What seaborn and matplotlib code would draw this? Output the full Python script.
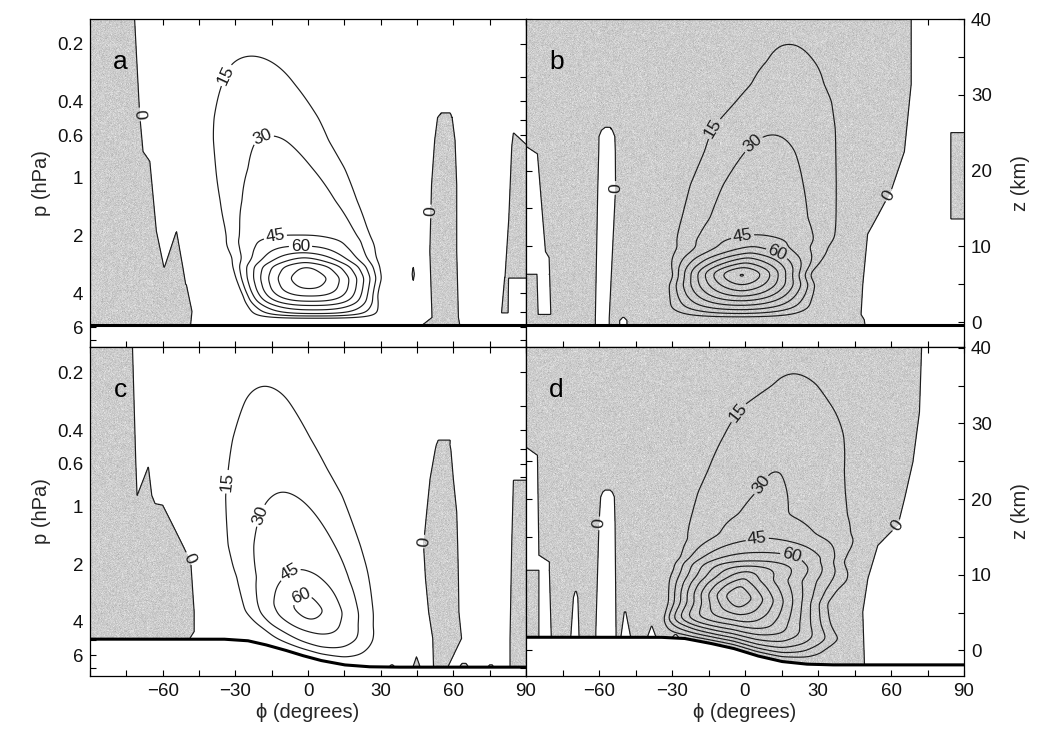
import numpy as np
import matplotlib
matplotlib.use("Agg")
import matplotlib.pyplot as plt
from matplotlib.ticker import FixedLocator, FixedFormatter, FuncFormatter
import seaborn as sns

sns.set_theme(style="ticks")
plt.rcParams["font.family"] = ["Liberation Sans", "DejaVu Sans"]
plt.rcParams["xtick.direction"] = "in"
plt.rcParams["ytick.direction"] = "in"

# ---------------------------------------------------------------- constants
P0_HPA = 5.65       # reference surface pressure
SCALE_H_KM = 11.0   # pressure scale height

# ---------------------------------------------------------------- axis ticks
p_major = [0.2, 0.4, 0.6, 1, 2, 4, 6]
p_major_labels = ["0.2", "0.4", "0.6", "1", "2", "4", "6"]
p_minor = [0.3, 0.5, 0.7, 0.8, 0.9, 3, 5, 7]
z_major = [0, 10, 20, 30, 40]
z_minor = [5, 15, 25, 35]
lat_ticks = list(range(-90, 91, 15))

contour_step = 15

# ---------------------------------------------------------------- surface height (km)
flat_surf_lat = [-90, 90]
flat_surf_z = [-0.35, -0.35]
c_surf_lat = [-90, -35, -25, -18, -10, -3, 5, 15, 25, 35, 90]
c_surf_z = [1.5, 1.5, 1.3, 0.8, 0.1, -0.6, -1.3, -1.9, -2.15, -2.2, -2.2]
d_surf_lat = [-90, -35, -25, -15, -5, 5, 15, 25, 35, 90]
d_surf_z = [1.75, 1.75, 1.6, 1.0, 0.3, -0.7, -1.45, -1.8, -1.9, -1.9]

# ---------------------------------------------------------------- jet profiles
# per height: peak speed, latitude of the peak, half widths and profile exponents
a_jet_z = [0.3, 0.6, 1.0, 1.6, 2.2, 2.7, 3.4, 4.3, 5.8, 7.4, 7.8, 8.5, 9.1, 10.0,
           11.2, 12.5, 16.0, 20.3, 24.0, 27.0, 31.4, 35.1, 40.0]
a_jet_peak = [0, 18, 45, 60, 75, 90, 105, 120, 130, 120, 105, 90, 75, 60,
              45, 43.5, 40, 35, 31, 26, 20, 15, 9]
a_jet_center = [3, 3, 3, 2.5, 2, 1.5, 1, 0.6, 0.3, -0.8, -1.1, -1.6, -2.2, -3,
                -3.9, -5, -8, -11.5, -15.3, -17.3, -20.5, -23.3, -26]
a_jet_width = [27, 28, 29.4, 29.5, 29.5, 29.6, 29.6, 30.5, 32.2, 33, 33.3, 33.5, 34, 34.7,
               33.5, 33.5, 34.4, 35.2, 33.1, 33, 30, 30, 30]
a_jet_shape = [2.5, 2.5, 2.5, 2.5, 2.5, 2.5, 2.4, 2.1, 1.8, 1.6, 1.55, 1.55, 1.8, 2.2,
               3.5, 3.2, 2.4, 2.0, 2.0, 2.0, 2.0, 2.0, 2.0]

b_jet_z = [0.4, 0.75, 1.2, 1.6, 2.2, 2.8, 3.4, 4.1, 4.9, 5.8, 6.2, 6.6, 7.2, 7.8, 8.5,
           9.1, 9.9, 11.3, 13.7, 18.1, 22.5, 25.6, 29.1, 31.4, 34.4, 36.7, 40.0]
b_jet_peak = [0, 20, 32, 45, 60, 75, 90, 105, 120, 135, 138, 135, 120, 105, 90,
              75, 60, 45, 41, 36.5, 32.5, 29, 25, 21, 17, 15, 11]
b_jet_center = [-2.4, -2.4, -2.4, -2.2, -2, -1.8, -1.6, -1.4, -1.2, -1.3, -1.4, -1.2, -0.5, 0.3, 1.2,
                2.2, 3.2, 4.5, 5.7, 7.5, 10.3, 11.8, 15.9, 17.5, 18.7, 18.1, 19]
b_jet_width = [30, 31, 32, 33, 33, 32.5, 32.5, 32.5, 32.6, 31, 30.5, 31, 32.5, 34, 35.5,
               37, 38, 38.9, 40.3, 39.1, 36.8, 36.4, 31.1, 28, 28.5, 28, 28]
b_jet_shape = [2, 2, 2, 2, 2, 1.9, 1.8, 1.7, 1.6, 1.5, 1.5, 1.5, 1.45, 1.4, 1.35,
               1.3, 1.4, 2.2, 1.9, 2, 2, 2, 2, 2, 2, 2, 2]

c_jet_z = [-0.5, 0.3, 1.0, 1.8, 2.6, 3.4, 4.2, 5.6, 7.5, 9.5, 10.6, 13.9, 20.5, 24.0,
           28.0, 32.9, 34.9, 40.0]
c_jet_peak = [0, 18, 30, 38, 45, 52, 60, 68, 60, 50, 45, 39, 30.5, 26.5, 22, 17.5, 15, 10]
c_jet_center = [4, 4, 4, 3.5, 2.5, 1.5, 0.5, 0.0, -1, -2.1, -3, -5.7, -10, -12.5,
                -15, -17, -17.8, -19]
c_jet_width = [24, 25, 26, 28, 29.5, 31, 32, 32.7, 33.5, 34.4, 34.5, 34.8, 33.7, 31,
               28.5, 24, 24, 24]
c_jet_shape = [2, 2, 2, 2, 2.1, 1.8, 1.5, 1.3, 1.4, 1.56, 1.8, 2, 2, 2, 2, 2, 2, 2]

d_jet_z = [0.1, 0.6, 1.0, 1.4, 2.0, 2.5, 3.2, 3.8, 4.7, 5.6, 7.1, 8.6, 9.6, 10.5,
           11.2, 11.8, 12.1, 12.9, 14.8, 15.3, 17.9, 21.0, 23.8, 28.5, 32.4, 35.1, 36.6, 40.0]
d_jet_peak = [0, 17, 30, 45, 60, 75, 90, 105, 120, 135, 150, 135, 120, 105,
              90, 75, 70, 60, 45, 42, 32.5, 31, 30, 24, 19, 16.5, 15, 11]
d_jet_center = [-1, -1, -1.2, -1.5, -1.8, -2.2, -2.5, -2.6, -2.7, -2.8, -2.8, -1.5, 0, 1.5,
                2.5, 3.5, 5, 6, 9, 9, 7.5, 11, 12.8, 16, 17.5, 20.5, 20, 21]
d_jet_width_s = [33, 33, 33.5, 34, 33.5, 33, 32.5, 32, 31.5, 31, 31, 32.5, 33.9, 34,
                 34.5, 35, 35, 36, 40, 43, 40.8, 43.9, 41.2, 42.2, 42.6, 34, 34, 34]
d_jet_width_n = [36, 37, 38, 39, 40, 43, 46, 44, 42, 41, 40, 44, 48, 46,
                 43, 41, 40, 41, 45, 46.3, 50.7, 43.9, 41.2, 42.2, 42.6, 34, 34, 34]
d_jet_shape_s = [3, 3, 3, 3, 3, 3.3, 3.5, 2.8, 2.0, 1.5, 1.3, 1.3, 1.29, 1.6,
                 2.0, 2.3, 2.5, 2.4, 1.9, 1.6, 1.89, 1.77, 1.8, 1.8, 1.8, 1.8, 1.8, 1.8]
d_jet_shape_n = [2, 2, 2, 2, 2, 1.8, 1.6, 1.5, 1.35, 1.25, 1.2, 1.05, 0.95, 1.3,
                 1.8, 2.2, 2.5, 2.4, 1.7, 1.5, 1.62, 1.77, 1.8, 1.8, 1.8, 1.8, 1.8, 1.8]

# ---------------------------------------------------------------- shaded zones
# each zone: (heights km, western edge deg, eastern edge deg)
a_west = ([-4, 1.4, 4.9, 7.1, 12.0, 21.2, 22.5, 27.4, 35.8, 45],
          [-100] * 10,
          [-49.6, -47.9, -50.2, -59.4, -62.6, -65.3, -68.1, -69.5, -70.9, -72.4])
a_spike = ([4.0, 7.1, 12.0], [-62.0, -59.4, -54.3], [-50.0, -51.6, -54.3])
a_sliver = ([5.5, 6.3, 7.2], [43.3, 43.0, 43.3], [43.5, 43.9, 43.5])
a_column = ([-4, -0.3, 0.6, 9.3, 18.1, 24.0, 27.0, 27.6],
            [47, 47.6, 51.2, 50.3, 51.0, 52.3, 53.5, 55.0],
            [62.8, 62.6, 62.1, 61.4, 61.4, 60.7, 59.5, 58.7])
a_east = ([5.8, 13.7, 23.0, 23.4, 25.0], [81.3, 82.9, 84.1, 84.2, 84.8],
          [100, 100, 100, 90.2, 84.8])
a_east_stem = ([1.2, 5.9], [79.9, 81.2], [82.6, 82.8])

b_main = ([-4, 0.3, 1.0, 4.9, 11.6, 13.7, 17.3, 22.5, 31.4, 45],
          [-100] * 10,
          [51, 49, 47.7, 48.4, 50.4, 54, 60, 65.5, 68.3, 68.3])
b_east = ([13.6, 25.0], [84.6, 84.6], [100, 100])
b_gap_west_low = ([1.0, 6.3], [-85, -85.5], [-79.8, -80.3])
b_gap_west_up = ([6.3, 8.5, 9.3, 22.2, 23.4], [-100] * 5, [-80.3, -80.5, -82.0, -85.3, -91])
b_gap_column = ([-4, 0.5, 17.7, 22.5, 24.5, 25.3, 25.7],
                [-61.5, -61.5, -60.5, -60.1, -60, -59, -57.5],
                [-55.8, -55.8, -53.2, -53.3, -53.5, -54.5, -55.5])
b_gap_bump = ([-4, 0.2, 0.6], [-51.5, -51.5, -50.3], [-48.5, -48.5, -49.7])

c_west = ([-4, 1.5, 2.5, 5.1, 11.7, 13.5, 16.6, 19.2, 19.9, 24.9, 45],
          [-100] * 11,
          [-49.5, -49, -47, -47, -48.4, -51.1, -55.9, -60, -70.5, -71.1, -72.9])
c_spike = ([18.5, 20.5, 24.3], [-71, -70.5, -65.9], [-62, -64.5, -65.9])
c_column = ([-4, -2.0, 1.6, 5.1, 9.5, 13.9, 18.3, 22.7, 26.5, 27.2, 27.8],
            [51.8, 51.8, 51.5, 49.8, 48.5, 47.7, 49, 50.4, 52.5, 53, 53.8],
            [58, 58, 63.4, 62.3, 62.1, 61.8, 61.4, 60, 59, 58.6, 58.7])
c_east = ([-4, 1.5, 13.9, 22.5], [83.4, 83.4, 84.1, 84.8], [100] * 4)
c_bump_34 = ([-4, -2.2, -1.9], [33.4, 33.4, 34.3], [35.9, 35.9, 35.0])
c_bump_44 = ([-4, -2.2, -0.8], [43.3, 43.3, 44.8], [46.3, 46.3, 44.8])
c_bump_64 = ([-4, -2.2, -1.7], [62.5, 62.5, 63.6], [66.3, 66.3, 65.2])
c_bump_75 = ([-4, -2.2, -1.9], [74.2, 74.2, 75.0], [76.8, 76.8, 76.0])

d_main = ([-4, -1.9, 5.1, 9.5, 13.9, 16.6, 20.1, 24.9, 31.5, 45],
          [-100] * 10,
          [50, 49.1, 48.4, 50.5, 54.6, 62.9, 65.6, 69, 71.7, 73.1])
d_gap_west_low = ([-4, 10.6], [-84.7, -84.7], [-79.1, -80.4])
d_gap_west_up = ([10.6, 11.7, 12.6, 25.8, 27.1], [-100] * 5, [-80.4, -80.4, -84.7, -85.3, -91])
d_gap_column = ([-4, 2.5, 16.8, 20.3, 20.9, 21.2],
                [-61.3, -61.3, -60.0, -59.3, -58.5, -57.5],
                [-53.0, -53.0, -53.4, -53.7, -54.5, -55.5])
d_gap_spike_70 = ([-4, 1.8, 7.0, 7.8], [-71.6, -71.6, -70.5, -69.8], [-68.2, -68.2, -68.7, -69.3])
d_gap_spike_50 = ([-4, 1.8, 5.1], [-51, -51, -49.6], [-47, -47, -49.0])
d_gap_tri_38 = ([-4, 1.8, 3.2], [-40.1, -40.1, -38.5], [-36.6, -36.6, -38.2])
d_gap_bump_28 = ([-4, 1.75, 2.1], [-29.8, -29.8, -28.9], [-27.3, -27.3, -28.2])

# ---------------------------------------------------------------- label anchors (lat, km)
a_jet_labels = [(-33.3, 32.5), (-18.2, 23.9), (-13.4, 11.1), (-3.1, 9.9)]
b_jet_labels = [(-13.2, 25.6), (3.1, 23.6), (-1.0, 11.3), (14.1, 9.8)]
c_jet_labels = [(-33.7, 22.3), (-18.5, 17.7), (-7.5, 10.2), (-2.7, 7.1)]
d_jet_labels = [(-2.3, 31.3), (6.6, 21.9), (5.2, 14.2), (18.9, 12.2)]
a_zero_labels = [(-69.5, 27.4), (50.0, 14.6)]
b_zero_labels = [(-53.0, 17.7), (60.9, 16.4)]
c_zero_labels = [(-48.9, 12.2), (47.5, 14.4)]
d_zero_labels = [(-60.2, 16.8), (62.8, 16.4)]

# ---------------------------------------------------------------- grids and fields
lat = np.linspace(-90.0, 90.0, 721)
zg = np.linspace(-3.45, 40.25, 875)
LAT, Z = np.meshgrid(lat, zg)
EDGE_K = 3.2  # degrees per km so zone edges are even on screen

SHADE = "#cdcdcd"
INK = "#1c1c1c"
grain_rng = np.random.default_rng(11)


def z_of_p(p):
    return SCALE_H_KM * np.log(P0_HPA / np.asarray(p, float))


def gauss_kernel(sigma_cells):
    half = int(3 * sigma_cells)
    x = np.arange(-half, half + 1)
    k = np.exp(-0.5 * (x / sigma_cells) ** 2)
    return k / k.sum()


KERN_LAT = gauss_kernel(4.0)   # ~1 degree
KERN_Z = gauss_kernel(6.0)     # ~0.3 km


def smooth(field):
    f = np.apply_along_axis(lambda r: np.convolve(r, KERN_LAT, mode="same"), 1, field)
    return np.apply_along_axis(lambda c: np.convolve(c, KERN_Z, mode="same"), 0, f)


def zone_field(zone):
    rz, rw, re = (np.asarray(v, float) for v in zone)
    w = np.interp(zg, rz, rw)[:, None]
    e = np.interp(zg, rz, re)[:, None]
    s = np.minimum(LAT - w, e - LAT)
    s = np.minimum(s, EDGE_K * (Z - rz[0]))
    return np.minimum(s, EDGE_K * (rz[-1] - Z))


def shade_field(zones, gaps, zs):
    s = np.max([zone_field(r) for r in zones], axis=0)
    if gaps:
        s = np.minimum(s, -np.max([zone_field(r) for r in gaps], axis=0))
    return np.minimum(s, EDGE_K * (Z - zs[None, :]))


def jet_field(zt, peak, center, w_s, w_n, n_s, n_n, zs, ref_lat):
    zs_ref = np.interp(ref_lat, lat, zs)
    blend = np.clip(1.0 - (Z - zs_ref) / 12.0, 0.0, 1.0)
    zq = Z - (zs[None, :] - zs_ref) * blend
    pk = np.interp(zq, zt, peak)
    c = np.interp(zq, zt, center)
    d = LAT - c
    south = d < 0
    w = np.where(south, np.interp(zq, zt, w_s), np.interp(zq, zt, w_n))
    n = np.where(south, np.interp(zq, zt, n_s), np.interp(zq, zt, n_n))
    r = np.minimum(np.abs(d) / w, 1.6)
    u = pk * (1.0 - r ** n)
    below = Z < zs[None, :]
    u[below] = 0.0
    u = smooth(u)
    u[below] = np.nan
    return np.ma.masked_invalid(u)


def draw_panel(ax, letter, zones, gaps, surf_lat, surf_z, jet, ref_lat,
               jet_labels, zero_labels):
    zs = np.interp(lat, surf_lat, surf_z)
    s = shade_field(zones, gaps, zs)
    cf = ax.contourf(lat, zg, s, levels=[0, 1e6], colors=[SHADE], zorder=1)
    # stippled texture of the shaded zones
    grain = np.clip(0.80 + 0.035 * grain_rng.standard_normal((330, 440)), 0, 1)
    im = ax.imshow(grain, cmap="gray", vmin=0, vmax=1, origin="lower",
                   extent=(-90, 90, zg[0], zg[-1]), aspect="auto",
                   interpolation="nearest", zorder=1.5)
    im.set_clip_path(cf.get_paths()[0], transform=ax.transData)

    cs0 = ax.contour(lat, zg, s, levels=[0], colors=[INK], linewidths=0.85, zorder=3)
    ax.clabel(cs0, fmt=lambda v: "0", manual=zero_labels, inline=True,
              inline_spacing=2, fontsize=12.5, colors=[INK])

    u = jet_field(*jet, zs, ref_lat)
    top = float(np.nanmax(u))
    levels = np.arange(contour_step, top, contour_step)
    cs = ax.contour(lat, zg, u, levels=levels, colors=[INK], linewidths=0.85, zorder=3)
    ax.clabel(cs, levels=levels[:4], fmt="%d", manual=jet_labels, inline=True,
              inline_spacing=2, fontsize=12.5, colors=[INK])

    sns.lineplot(x=lat, y=zs, ax=ax, color="black", linewidth=2.2, zorder=5,
                 legend=False)
    ax.text(0.07, 0.87, letter, transform=ax.transAxes, fontsize=19,
            ha="center", va="center", color="black", zorder=6)


fig = plt.figure(figsize=(10.37, 7.36), dpi=100)
W_PX, H_PX = 1037.0, 736.0
ax_a = fig.add_axes([90 / W_PX, 1 - 347 / H_PX, 436 / W_PX, 328 / H_PX])
ax_b = fig.add_axes([526 / W_PX, 1 - 347 / H_PX, 438 / W_PX, 328 / H_PX])
ax_c = fig.add_axes([90 / W_PX, 1 - 676 / H_PX, 436 / W_PX, 329 / H_PX])
ax_d = fig.add_axes([526 / W_PX, 1 - 676 / H_PX, 438 / W_PX, 329 / H_PX])

flat = (flat_surf_lat, flat_surf_z)
draw_panel(ax_a, "a", [a_west, a_spike, a_sliver, a_column, a_east, a_east_stem], [],
           *flat,
           (a_jet_z, a_jet_peak, a_jet_center, a_jet_width, a_jet_width, a_jet_shape, a_jet_shape),
           0.0, a_jet_labels, a_zero_labels)
draw_panel(ax_b, "b", [b_main, b_east],
           [b_gap_west_low, b_gap_west_up, b_gap_column, b_gap_bump], *flat,
           (b_jet_z, b_jet_peak, b_jet_center, b_jet_width, b_jet_width, b_jet_shape, b_jet_shape),
           0.0, b_jet_labels, b_zero_labels)
draw_panel(ax_c, "c", [c_west, c_spike, c_column, c_east, c_bump_34, c_bump_44, c_bump_64, c_bump_75],
           [], c_surf_lat, c_surf_z,
           (c_jet_z, c_jet_peak, c_jet_center, c_jet_width, c_jet_width, c_jet_shape, c_jet_shape),
           -2.0, c_jet_labels, c_zero_labels)
draw_panel(ax_d, "d", [d_main],
           [d_gap_west_low, d_gap_west_up, d_gap_column, d_gap_spike_70, d_gap_spike_50,
            d_gap_tri_38, d_gap_bump_28], d_surf_lat, d_surf_z,
           (d_jet_z, d_jet_peak, d_jet_center, d_jet_width_s, d_jet_width_n,
            d_jet_shape_s, d_jet_shape_n),
           -2.0, d_jet_labels, d_zero_labels)


def lat_label(v, pos):
    v = int(round(v))
    if v % 30 != 0 or v == -90:
        return ""
    return f"\u2212{abs(v)}" if v < 0 else f"{v}"


for ax, ylim in [(ax_a, (-3.3, 40.0)), (ax_b, (-3.3, 40.0)),
                 (ax_c, (-3.37, 40.1)), (ax_d, (-3.37, 40.1))]:
    ax.set_xlim(-90, 90)
    ax.set_ylim(*ylim)
    ax.set_facecolor("white")
    ax.xaxis.set_major_locator(FixedLocator(lat_ticks))
    ax.xaxis.set_major_formatter(FuncFormatter(lat_label))
    ax.tick_params(axis="both", which="both", direction="in", length=4.5, width=0.8,
                   color="black", labelsize=13.5, top=True, bottom=True,
                   left=True, right=True, pad=5, labelcolor="#111111")
    for sp in ax.spines.values():
        sp.set_color("black")
        sp.set_linewidth(0.9)
        sp.set_zorder(7)
    ax.grid(False)

for ax in (ax_a, ax_b):
    ax.tick_params(axis="x", labelbottom=False)

for ax in (ax_a, ax_c):
    ax.yaxis.set_major_locator(FixedLocator(z_of_p(p_major)))
    ax.yaxis.set_major_formatter(FixedFormatter(p_major_labels))
    ax.yaxis.set_minor_locator(FixedLocator(z_of_p(p_minor)))
    ax.tick_params(axis="y", labelleft=True, labelright=False)
    ax.set_ylabel("p (hPa)", fontsize=14.5, labelpad=4)

for ax in (ax_b, ax_d):
    ax.yaxis.set_major_locator(FixedLocator(z_major))
    ax.yaxis.set_minor_locator(FixedLocator(z_minor))
    ax.tick_params(axis="y", labelleft=False, labelright=True)
    ax.yaxis.set_label_position("right")
    ax.set_ylabel("z (km)", fontsize=14.5, labelpad=14)

for ax in (ax_c, ax_d):
    ax.set_xlabel("\u03d5 (degrees)", fontsize=14.5, labelpad=2)

fig.savefig("out.png", dpi=100, facecolor="white")
